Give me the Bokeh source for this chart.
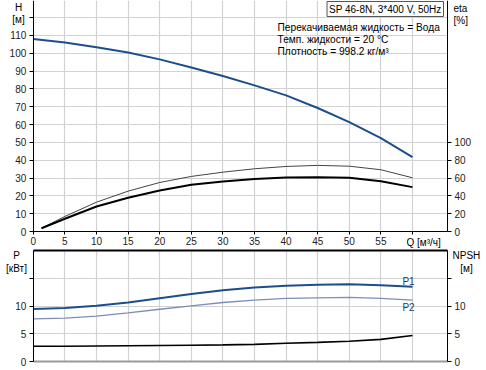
from bokeh.plotting import figure
from bokeh.models import Range1d, LinearAxis, FixedTicker, Label, Grid
from bokeh.embed import file_html
from bokeh.resources import INLINE

# ---- data ----
q_h = [0, 5, 10, 15, 20, 25, 30, 35, 40, 45, 50, 55, 60]
head = [108, 106, 103.4, 100.4, 96.6, 92, 87.3, 82, 76.4, 69.3, 61.4, 52.4, 41.7]

q_eta = [1.3, 5, 10, 15, 20, 25, 30, 35, 40, 45, 50, 55, 60]
eta_pump = [3.7, 16.9, 32.9, 45.3, 55, 61.8, 66.6, 70.4, 73, 74.2, 73.3, 69.3, 60.3]
eta_total = [3.7, 14.3, 28.1, 37.9, 46, 52.5, 56.2, 58.8, 60.7, 61, 60.4, 56.5, 49.8]

q_p = [0, 5, 10, 15, 20, 25, 30, 35, 40, 45, 50, 55, 60]
p1_kw = [9.5, 9.66, 10.07, 10.67, 11.43, 12.2, 12.9, 13.4, 13.7, 13.9, 13.95, 13.8, 13.5]
p2_kw = [7.7, 7.86, 8.2, 8.8, 9.45, 10.07, 10.67, 11.1, 11.4, 11.5, 11.6, 11.4, 11.1]
npsh = [2.75, 2.76, 2.8, 2.85, 2.9, 2.95, 3.0, 3.1, 3.3, 3.45, 3.65, 4.0, 4.7]

q_ticks = list(range(0, 61, 5))
h_ticks = list(range(0, 121, 10))
eta_ticks = [0, 20, 40, 60, 80, 100]
p_ticks = [0, 5, 10, 15]
p_grid = [5, 10, 15]

title_text = "SP 46-8N, 3*400 V, 50Hz"
info_lines = ["Перекачиваемая жидкость = Вода", "Темп. жидкости = 20 °C", "Плотность = 998.2 кг/м³"]

# ---- layout constants (pixels) ----
W, HC = 480, 368
X0, SX = 32.8, 6.32        # page x of Q=0, px per m3/h
Y0H, SH = 231.0, 1.782     # page y of H=0, px per m
Y0P, SP = 361.0, 5.53      # page y of P=0, px per kW


def qx(px):
    return (px - X0) / SX


def hy(py):
    return (Y0H - py) / SH


def pyv(py):
    return (Y0P - py) / SP


Q_RIGHT = qx(447)          # right border of both panels
H_TOP = hy(0)
P_TOP = pyv(250)

FONT = "Liberation Sans"
TICK_SIZE = "10px"
GRID = "#d2d2d2"
BLUE = "#1d4e8c"
P2C = "#7d8eb6"

p = figure(width=W, height=HC, x_range=Range1d(qx(0), qx(W)), y_range=Range1d(hy(HC), hy(0)),
           x_axis_type=None, y_axis_type=None, output_backend="svg", toolbar_location=None,
           min_border=0, min_border_left=0, min_border_right=0, min_border_top=0, min_border_bottom=0)
p.extra_y_ranges = {"eta": Range1d(2 * hy(HC), 2 * hy(0)), "P": Range1d(pyv(HC), pyv(0))}
p.outline_line_color = None
p.background_fill_color = "white"


def make_axis(ticks, overrides=None, color="black", width=1, out=4, standoff=3, **kw):
    ax = LinearAxis(ticker=FixedTicker(ticks=ticks), **kw)
    ax.axis_line_color = color
    ax.axis_line_width = width
    ax.major_tick_line_color = "black"
    ax.major_tick_out = out
    ax.major_tick_in = 0
    ax.minor_tick_line_color = None
    ax.major_label_text_font = FONT
    ax.major_label_text_font_size = TICK_SIZE
    ax.major_label_text_color = "#222222"
    ax.major_label_standoff = standoff
    if overrides:
        ax.major_label_overrides = overrides
    return ax


# grids
p.add_layout(Grid(dimension=0, ticker=FixedTicker(ticks=q_ticks), cross_bounds=(0, H_TOP),
                  grid_line_color=GRID, grid_line_width=1.2))
p.add_layout(Grid(dimension=1, ticker=FixedTicker(ticks=h_ticks), cross_bounds=(0, Q_RIGHT),
                  grid_line_color=GRID, grid_line_width=1.2))
p.add_layout(Grid(dimension=0, ticker=FixedTicker(ticks=q_ticks), cross_bounds=(0, P_TOP),
                  y_range_name="P", grid_line_color=GRID, grid_line_width=1.2))
p.add_layout(Grid(dimension=1, ticker=FixedTicker(ticks=p_grid), cross_bounds=(0, Q_RIGHT),
                  y_range_name="P", grid_line_color=GRID, grid_line_width=1.2))

# top panel axes
p.add_layout(make_axis(q_ticks, {60: ""}, out=3, standoff=2, fixed_location=0, bounds=(0, Q_RIGHT)), "below")
p.add_layout(make_axis(h_ticks, {120: ""}, fixed_location=0, bounds=(0, H_TOP)), "left")
p.add_layout(make_axis(eta_ticks, y_range_name="eta", fixed_location=Q_RIGHT, bounds=(0, 2 * H_TOP)), "right")

# bottom panel axes and borders
p.add_layout(make_axis(p_ticks, {15: ""}, y_range_name="P", fixed_location=0, bounds=(0, P_TOP)), "left")
p.add_layout(make_axis(p_ticks, {15: ""}, y_range_name="P", fixed_location=Q_RIGHT, bounds=(0, P_TOP)), "right")
p.add_layout(make_axis([], y_range_name="P", fixed_location=P_TOP, bounds=(0, Q_RIGHT), width=2), "above")
p.add_layout(make_axis([], y_range_name="P", fixed_location=0, bounds=(0, Q_RIGHT), color="#9a9a9a", width=2), "below")

# curves
p.line(q_h, head, line_color=BLUE, line_width=2)
p.line(q_eta, eta_pump, line_color="#444444", line_width=1, y_range_name="eta")
p.line(q_eta, eta_total, line_color="black", line_width=2, y_range_name="eta")
p.line(q_p, p1_kw, line_color=BLUE, line_width=2, y_range_name="P")
p.line(q_p, p2_kw, line_color=P2C, line_width=1.3, y_range_name="P")
p.line(q_p, npsh, line_color="black", line_width=1.6, y_range_name="P")


def add_label(px, py, text, align="left", size="10px", color="black", rng=None, baseline="middle", **kw):
    if rng == "P":
        lab = Label(x=qx(px), y=pyv(py), y_range_name="P", text=text, text_font=FONT,
                    text_font_size=size, text_color=color, text_align=align, text_baseline=baseline, **kw)
    else:
        lab = Label(x=qx(px), y=hy(py), text=text, text_font=FONT,
                    text_font_size=size, text_color=color, text_align=align, text_baseline=baseline, **kw)
    p.add_layout(lab)


# axis titles
add_label(18, 7, "H", align="center")
add_label(18, 19, "[м]", align="center")
add_label(453, 8, "eta")
add_label(453, 20, "[%]")
add_label(406, 241.5, "Q [м³/ч]", size="10px")
add_label(16, 255, "P", align="center", rng="P")
add_label(16, 267.5, "[кВт]", align="center", rng="P")
add_label(452, 255, "NPSH", rng="P")
add_label(466, 268, "[м]", align="center", rng="P")
add_label(408, 280.5, "P1", align="center", color="#1d3f70", rng="P")
add_label(408, 306.5, "P2", align="center", color="#1d3f70", rng="P")

# title box and info text
add_label(443, 8.5, title_text, align="right", size="10px",
          padding=2, border_line_color="#555555", border_line_width=1,
          background_fill_color="white")
for i, line in enumerate(info_lines):
    add_label(277, 27 + 12 * i, line, size="10.2px")

open("out.html", "w").write(file_html(p, INLINE))
